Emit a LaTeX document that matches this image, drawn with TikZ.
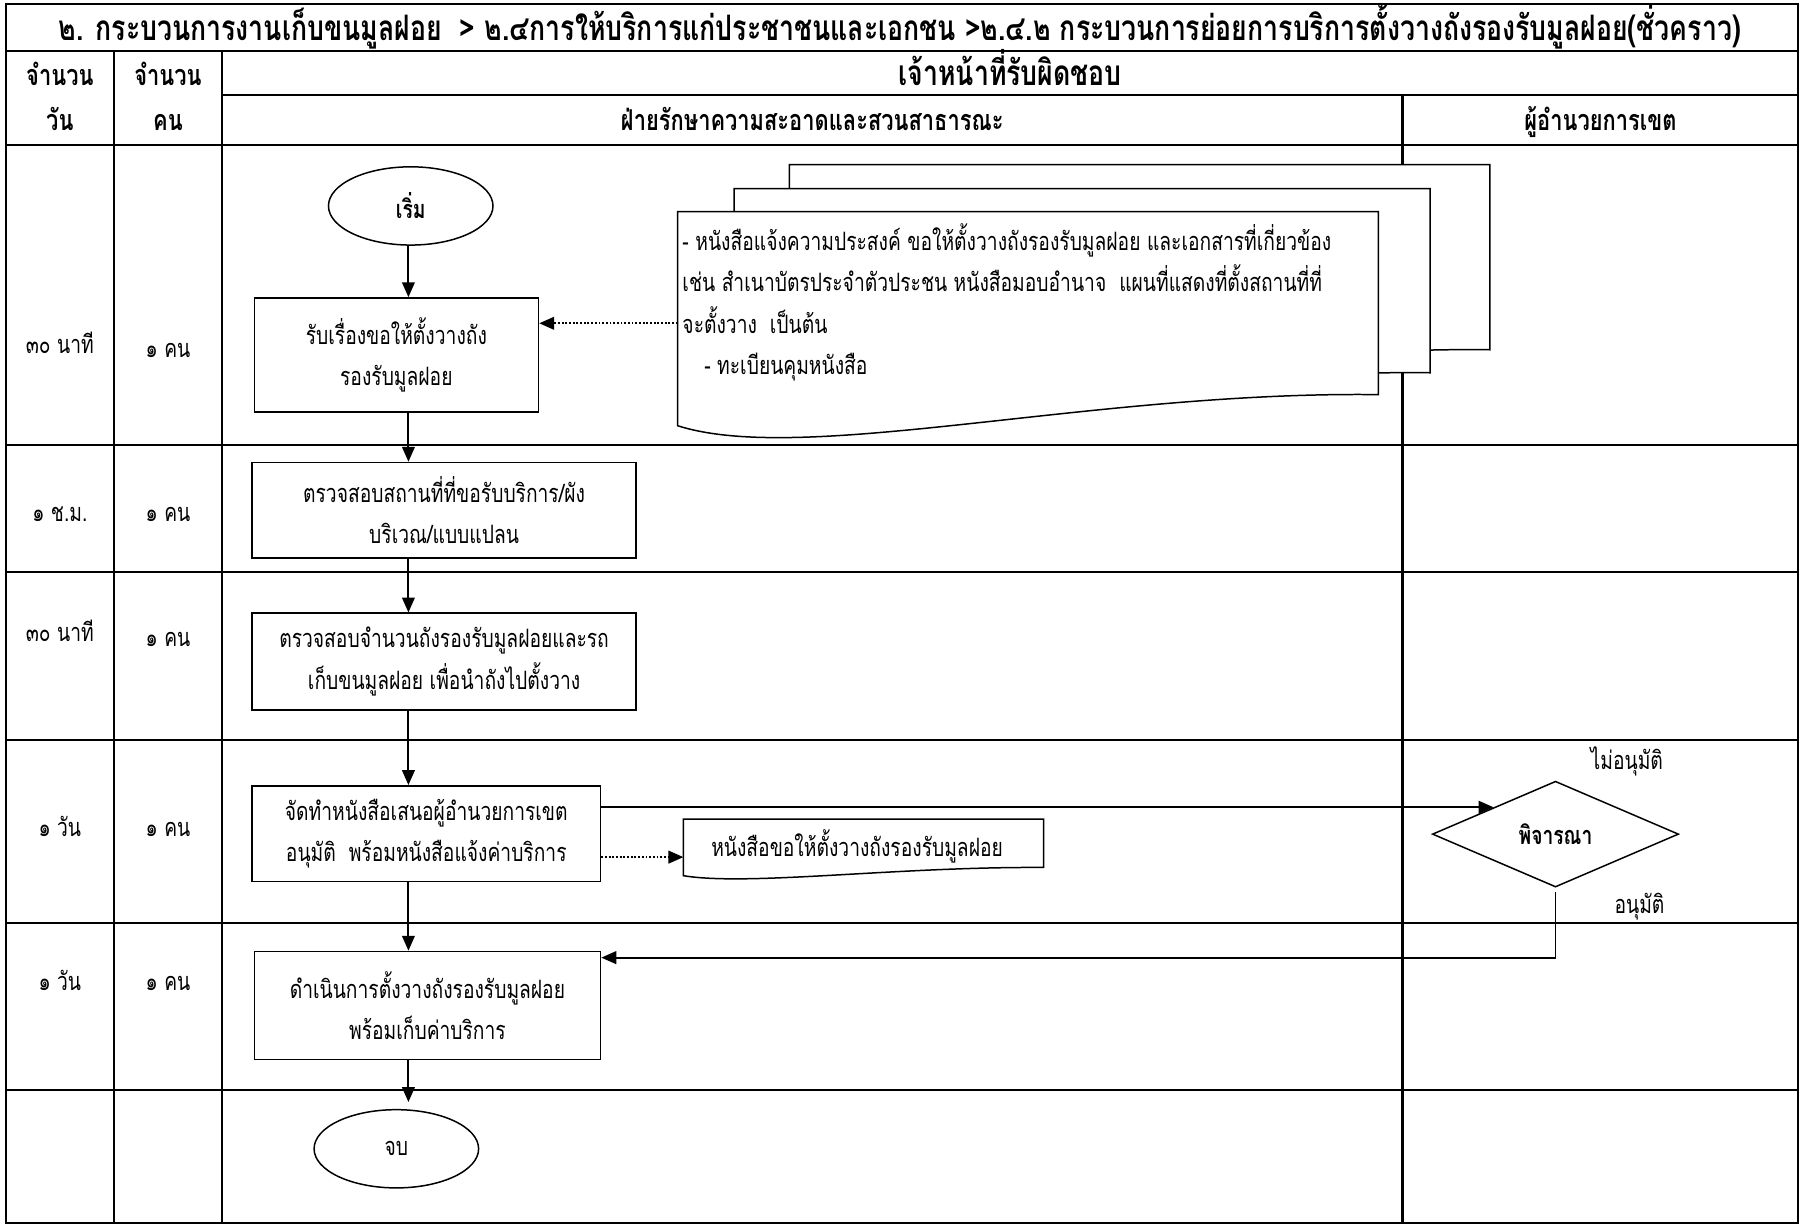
\documentclass[tikz,border=0pt]{standalone}
\usepackage{fontspec}
\setmainfont[Script=Thai, FakeStretch=0.76]{Loma}
\usetikzlibrary{shapes.geometric, arrows.meta}
\newcommand{\boxfont}{\fontsize{22}{36}\selectfont}
\newcommand{\headfont}{\fontsize{25}{30}\selectfont\bfseries}
\newcommand{\titlefont}{\fontsize{30.5}{32}\selectfont\bfseries}
% page of a document symbol: left, top, right, bottom (right side)
\newcommand{\docpage}[4]{%
  \filldraw[page] (#1,#2) -- (#3,#2) -- (#3,#4)
    .. controls ({#1+0.59*(#3-#1)},{#4-0.02*(#4-#2)}) and ({#1+0.18*(#3-#1)},{#4+0.39*(#4-#2)})
    .. (#1,{#4+0.17*(#4-#2)}) -- cycle;}
\tikzset{
  grid/.style = {line width=1.8pt},
  page/.style = {draw, fill=white, line width=1.3pt},
  box/.style = {rectangle, draw, fill=white, line width=1.3pt,
                inner sep=0pt, align=center, font=\boxfont},
  term/.style = {ellipse, draw, fill=white, line width=1.3pt,
                 minimum width=143pt, minimum height=68pt, inner sep=0pt, font=\boxfont},
  decide/.style = {diamond, draw, fill=white, line width=1.3pt,
                   minimum width=214pt, minimum height=92pt, inner sep=0pt, font=\boxfont},
  lbl/.style = {anchor=base, inner sep=0pt, font=\boxfont},
  head/.style = {anchor=base, inner sep=0pt, font=\headfont},
  flow/.style = {line width=1.7pt, -{Triangle[length=13pt, width=11pt]}},
  dotflow/.style = {line width=1.7pt, dash pattern=on 1.6pt off 1.6pt,
                    -{Triangle[length=13pt, width=11pt]}}
}

\begin{document}
\begin{tikzpicture}[x=1pt, y=-1pt]
	\def \L{5}
	\def \R{1563}
	\def \T{3.5}
	\def \B{1063}
	\def \cA{99}
	\def \cB{193}
	\def \lane{1219}
	\def \ax{355}

	\useasboundingbox (0,0) rectangle (1568,1064);

	% Table
	\draw[grid] (\L,\T) rectangle (\R,\B);
	\draw[grid] (\L,44)    -- (\R,44);
	\draw[grid] (\cB,82.5) -- (\R,82.5);
	\draw[grid] (\L,126)   -- (\R,126);
	\draw[grid] (\L,386.5) -- (\R,386.5);
	\draw[grid] (\L,497.5) -- (\R,497.5);
	\draw[grid] (\L,643)   -- (\R,643);
	\draw[grid] (\L,802)   -- (\R,802);
	\draw[grid] (\L,947)   -- (\R,947);
	\draw[grid] (\cA,44)     -- (\cA,\B);
	\draw[grid] (\cB,44)     -- (\cB,\B);
	\draw[grid] (\lane,82.5) -- (\lane,\B);

	% Headings
	\node[head, font=\titlefont] (title) at (782,35) {๒. กระบวนการงานเก็บขนมูลฝอย\ \ > ๒.๔การให้บริการแก่ประชาชนและเอกชน >๒.๔.๒ กระบวนการย่อยการบริการตั้งวางถังรองรับมูลฝอย(ชั่วคราว)};
	\node[head] (dayA) at (52,74)    {จำนวน};
	\node[head] (dayB) at (52,113.5) {วัน};
	\node[head] (manA) at (146,74)    {จำนวน};
	\node[head] (manB) at (146,113.5) {คน};
	\node[head, font=\titlefont] (staff) at (878,74) {เจ้าหน้าที่รับผิดชอบ};
	\node[head] (clean) at (706,113.5) {ฝ่ายรักษาความสะอาดและสวนสาธารณะ};
	\node[head] (boss)  at (1391,113.5) {ผู้อำนวยการเขต};

	% Time and staff per step
	\node[lbl] (t1) at (52,307)  {๓๐ นาที};
	\node[lbl] (n1) at (146,311) {๑ คน};
	\node[lbl] (t2) at (52,453)  {๑ ช.ม.};
	\node[lbl] (n2) at (146,453) {๑ คน};
	\node[lbl] (t3) at (52,558)  {๓๐ นาที};
	\node[lbl] (n3) at (146,562) {๑ คน};
	\node[lbl] (t4) at (52,727)  {๑ วัน};
	\node[lbl] (n4) at (146,727) {๑ คน};
	\node[lbl] (t5) at (52,861)  {๑ วัน};
	\node[lbl] (n5) at (146,861) {๑ คน};

	% Documents
	\docpage{686}{143}{1295}{304}
	\docpage{638}{164}{1243}{324}
	\docpage{589}{184}{1198}{343}
	\node[anchor=west, align=left, inner xsep=4pt, inner ysep=0pt, font=\boxfont] (req) at (589,263)
		{- หนังสือแจ้งความประสงค์ ขอให้ตั้งวางถังรองรับมูลฝอย และเอกสารที่เกี่ยวข้อง\\
		 เช่น สำเนาบัตรประจำตัวประชน หนังสือมอบอำนาจ\ \ แผนที่แสดงที่ตั้งสถานที่ที่\\
		 จะตั้งวาง\ \ เป็นต้น\\
		 \hspace{19pt}- ทะเบียนคุมหนังสือ};
	\docpage{594}{712}{907}{754}
	\node[anchor=west, inner xsep=24pt, inner ysep=0pt, font=\boxfont] (slip) at (594,736)
		{หนังสือขอให้ตั้งวางถังรองรับมูลฝอย};

	% Steps
	\node[term] (start) at (357,179) {\bfseries เริ่ม};
	\node[box, minimum width=247pt, minimum height=99pt] (rcv)   at (344.5,308.5) {รับเรื่องขอให้ตั้งวางถัง\\รองรับมูลฝอย};
	\node[box, minimum width=334pt, minimum height=83pt] (site)  at (386,443.5)   {ตรวจสอบสถานที่ที่ขอรับบริการ/ผัง\\บริเวณ/แบบแปลน};
	\node[box, minimum width=334pt, minimum height=84pt] (count) at (386,575)     {ตรวจสอบจำนวนถังรองรับมูลฝอยและรถ\\เก็บขนมูลฝอย เพื่อนำถังไปตั้งวาง};
	\node[box, minimum width=303pt, minimum height=83pt] (prop)  at (370.5,724.5) {จัดทำหนังสือเสนอผู้อำนวยการเขต\\อนุมัติ\ \ พร้อมหนังสือแจ้งค่าบริการ};
	\node[box, minimum width=301pt, minimum height=94pt] (inst)  at (371.5,874)   {ดำเนินการตั้งวางถังรองรับมูลฝอย\\พร้อมเก็บค่าบริการ};
	\node[term] (stop) at (344.5,998.5) {จบ};
	\node[decide] (cons) at (1352,725) {\bfseries พิจารณา};
	\node[lbl] (no)  at (1414,669) {ไม่อนุมัติ};
	\node[lbl] (yes) at (1425,794) {อนุมัติ};

	% Flow
	\coordinate (ax) at (\ax,0);
	\draw[flow] (start.south -| ax) -- (rcv.north -| ax);
	\draw[flow] (rcv.south -| ax)   -- (site.north -| ax);
	\draw[flow] (site.south -| ax)  -- (count.north -| ax);
	\draw[flow] (count.south -| ax) -- (prop.north -| ax);
	\draw[flow] (prop.south -| ax)  -- (inst.north -| ax);
	\draw[flow] (inst.south -| ax)  -- ([yshift=6pt]stop.north -| ax);
	\draw[flow] (prop.east |- cons.north west) -- (cons.north west);
	\draw[flow] ([yshift=-4pt]cons.south) |- ([yshift=-6pt]inst.north east);

	% Attached papers
	\coordinate (dA) at ([yshift=27.5pt]rcv.east);
	\coordinate (dB) at ([yshift=-20.5pt]prop.east);
	\draw[dotflow] (req.west |- dA) -- (dA);
	\draw[dotflow] (dB) -- (slip.west |- dB);
\end{tikzpicture}
\end{document}
